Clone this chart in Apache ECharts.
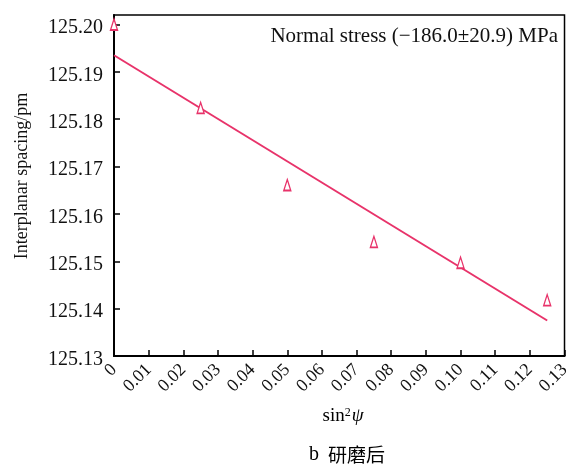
<!DOCTYPE html>
<html>
<head>
<meta charset="utf-8">
<script src="https://cdn.jsdelivr.net/npm/echarts@6/dist/echarts.min.js"></script>
<style>
html,body{margin:0;padding:0;background:#fff;}
#chart{width:573px;height:465px;}
</style>
</head>
<body>
<div id="chart"></div>
<script>
// Measured data (sin^2 psi vs interplanar spacing, pm)
const sin2psi = [0, 0.025, 0.05, 0.075, 0.10, 0.125];
const spacing = [125.2000, 125.1824, 125.1661, 125.1541, 125.1497, 125.1418];
// Fitted line endpoints
const fitX = [0, 0.125];
const fitY = [125.1935, 125.1375];
// Axis ranges
const xRange = [0, 0.13, 0.01];
const yRange = [125.13, 125.202, 0.01];
const yTitle = 'Interplanar spacing/pm';
const annotation = 'Normal stress (\u2212186.0\u00b120.9) MPa';
const captionLetter = 'b';
const captionText = '研磨后';

const serif = '"Liberation Serif", "Times New Roman", "DejaVu Serif", serif';
const cjk = '"Noto Sans CJK SC", sans-serif';
const red = '#e8336a';
const ink = '#111';

const chart = echarts.init(document.getElementById('chart'), null, {renderer: 'canvas'});
chart.setOption({
  backgroundColor: '#fff',
  animation: false,
  grid: {left: 114, right: 8, top: 15, bottom: 109, show: true, borderColor: '#000', borderWidth: 1.5, backgroundColor: 'transparent'},
  xAxis: {
    type: 'value', min: xRange[0], max: xRange[1], interval: xRange[2],
    axisLine: {show: true, lineStyle: {color: '#000', width: 2}},
    axisTick: {show: true, inside: true, length: 6, lineStyle: {color: '#000', width: 1.5}},
    splitLine: {show: false},
    axisLabel: {rotate: 45, margin: 11, fontFamily: serif, fontSize: 18, color: ink,
      formatter: v => v === 0 ? '0' : v.toFixed(2)}
  },
  yAxis: {
    type: 'value', min: yRange[0], max: yRange[1], interval: yRange[2],
    axisLine: {show: true, lineStyle: {color: '#000', width: 2}},
    axisTick: {show: true, inside: true, length: 6, lineStyle: {color: '#000', width: 1.5}},
    splitLine: {show: false},
    axisLabel: {showMaxLabel: false, margin: 11, color: ink,
      formatter: v => '{a|' + v.toFixed(2) + '}',
      rich: {a: {fontFamily: serif, fontSize: 20, color: ink, padding: [7, 0, 0, 0]}}}
  },
  graphic: [
    {type: 'text', x: 558, y: 36, style: {text: annotation, font: '21px ' + serif, fill: ink, textAlign: 'right', textVerticalAlign: 'middle'}},
    {type: 'text', x: 22, y: 176, rotation: Math.PI / 2, style: {text: yTitle, font: '18px ' + serif, fill: ink, textAlign: 'center', textVerticalAlign: 'middle'}},
    {type: 'text', x: 343, y: 416, style: {
      text: '{n|sin}{s|2}{i|ψ}', textAlign: 'center', textVerticalAlign: 'middle',
      rich: {n: {fontFamily: serif, fontSize: 19, color: ink},
             s: {fontFamily: serif, fontSize: 12, color: ink, verticalAlign: 'top', padding: [0, 1, 7, 0]},
             i: {fontFamily: serif, fontSize: 19, fontStyle: 'italic', color: ink}}}},
    {type: 'text', x: 347, y: 455, style: {
      text: '{b|' + captionLetter + '}{c|' + captionText + '}', textAlign: 'center', textVerticalAlign: 'middle',
      rich: {b: {fontFamily: serif, fontSize: 20, color: ink, padding: [0, 9, 0, 0]},
             c: {fontFamily: cjk, fontSize: 19, color: ink}}}}
  ],
  series: [
    {type: 'line', data: fitX.map((x, i) => [x, fitY[i]]), showSymbol: false, lineStyle: {color: red, width: 2}, z: 2},
    {type: 'scatter', data: sin2psi.map((x, i) => [x, spacing[i]]), symbol: 'triangle', symbolSize: [7, 11],
     clip: false, itemStyle: {color: '#fff', borderColor: red, borderWidth: 1.5, opacity: 1}, z: 3}
  ]
});
</script>
</body>
</html>
